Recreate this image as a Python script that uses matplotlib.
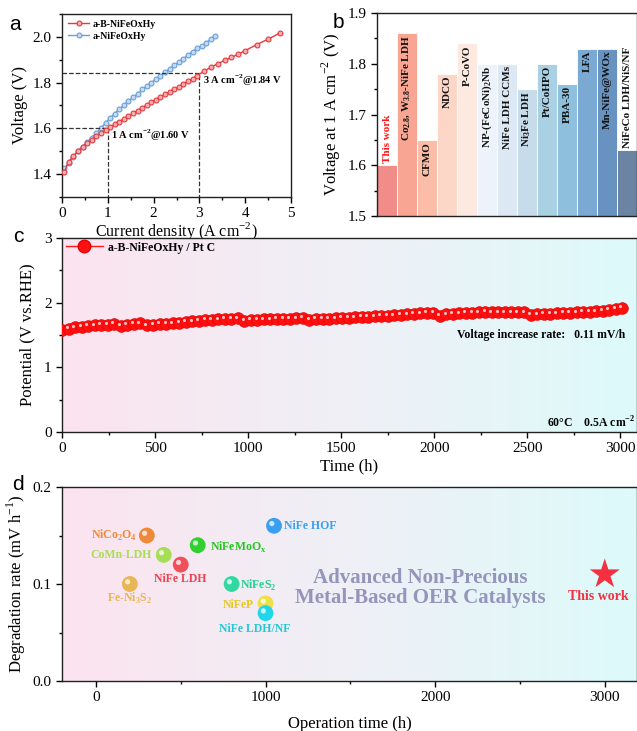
import numpy as np
import matplotlib
matplotlib.use('Agg')
import matplotlib.pyplot as plt
from matplotlib.colors import LinearSegmentedColormap
from matplotlib.transforms import ScaledTranslation
from matplotlib.lines import Line2D

plt.rcParams['font.family'] = 'Liberation Serif'
plt.rcParams['mathtext.fontset'] = 'custom'
plt.rcParams['mathtext.rm'] = 'Liberation Serif'
plt.rcParams['mathtext.bf'] = 'Liberation Serif:bold'
plt.rcParams['axes.linewidth'] = 1.0
plt.rcParams['xtick.labelsize'] = 11
plt.rcParams['ytick.labelsize'] = 11

# ---- panel a: polarization curves
red_j = [0.05, 0.15, 0.25, 0.35, 0.45, 0.55, 0.65, 0.75, 0.85, 0.95,
         1.05, 1.15, 1.25, 1.35, 1.45, 1.55, 1.65, 1.75, 1.85, 1.95,
         2.05, 2.15, 2.25, 2.35, 2.45, 2.55, 2.65, 2.75, 2.85, 2.95,
         3.1, 3.25, 3.4, 3.55, 3.7, 3.85, 4.0, 4.25, 4.5, 4.75]
red_v = [1.41, 1.455, 1.48, 1.50, 1.52, 1.535, 1.55, 1.565, 1.578, 1.592,
         1.606, 1.618, 1.63, 1.642, 1.654, 1.666, 1.678, 1.69, 1.702, 1.714,
         1.726, 1.738, 1.749, 1.76, 1.771, 1.782, 1.794, 1.806, 1.818, 1.83,
         1.85, 1.867, 1.883, 1.897, 1.91, 1.925, 1.94, 1.966, 1.99, 2.016]
blue_j = [0.05, 0.15, 0.25, 0.35, 0.45, 0.55, 0.65, 0.75, 0.85, 0.95,
          1.05, 1.15, 1.25, 1.35, 1.45, 1.55, 1.65, 1.75, 1.85, 1.95,
          2.05, 2.15, 2.25, 2.35, 2.45, 2.55, 2.65, 2.75, 2.85, 2.95,
          3.05, 3.15, 3.25, 3.35]
blue_v = [1.425, 1.45, 1.475, 1.50, 1.52, 1.54, 1.56, 1.58, 1.60, 1.625,
          1.645, 1.665, 1.685, 1.70, 1.72, 1.735, 1.75, 1.77, 1.785, 1.80,
          1.815, 1.83, 1.845, 1.86, 1.875, 1.89, 1.905, 1.92, 1.935, 1.95,
          1.96, 1.975, 1.99, 2.003]

# ---- panel b: voltage at 1 A cm-2
catalysts = ['This work', r'Co$_{\mathbf{2.8}}$, W$_{\mathbf{3.8}}$-NiFe LDH', 'CFMO', 'NDCO',
             'P-CoVO', r'NP-(FeCoNi)$_{\mathbf{2}}$Nb', 'NiFe LDH CCMs',
             r'Ni$_{\mathbf{3}}$Fe LDH', 'Pt/CoHPO', 'PBA-30', 'LFA',
             'Mn-NiFe@WOx', 'NiFeCo LDH/NiS/NF']
cat_volt = [1.60, 1.86, 1.65, 1.78, 1.84, 1.80, 1.80, 1.75, 1.80, 1.76, 1.83, 1.83, 1.63]
bar_colors = ['#f08d88', '#f9a593', '#fbbda8', '#fcd6c7', '#fde9df', '#edf3fa',
              '#dce8f3', '#c7dcea', '#aad0e4', '#8ebfdc', '#7aa9d3', '#6893c1', '#6c84a4']

# ---- panel c: stability test
time_h = [0, 35, 70, 105, 140, 175, 210, 245, 280, 315, 350, 385, 420, 455, 490,
          525, 560, 595, 630, 665, 700, 735, 770, 805, 840, 875, 910, 945, 980,
          1015, 1050, 1085, 1120, 1155, 1190, 1225, 1260, 1295, 1330, 1365, 1400,
          1435, 1470, 1505, 1540, 1575, 1610, 1645, 1680, 1715, 1750, 1785, 1820,
          1855, 1890, 1925, 1960, 1995, 2030, 2065, 2100, 2135, 2170, 2205, 2240,
          2275, 2310, 2345, 2380, 2415, 2450, 2485, 2520, 2555, 2590, 2625, 2660,
          2695, 2730, 2765, 2800, 2835, 2870, 2905, 2940, 2975, 3010]
potential = [1.57, 1.60, 1.62, 1.63, 1.64, 1.65, 1.655, 1.66, 1.67, 1.645, 1.66,
             1.67, 1.68, 1.65, 1.66, 1.67, 1.675, 1.68, 1.69, 1.70, 1.71, 1.72,
             1.73, 1.735, 1.74, 1.75, 1.755, 1.76, 1.72, 1.73, 1.735, 1.74, 1.74,
             1.745, 1.75, 1.755, 1.76, 1.765, 1.73, 1.745, 1.75, 1.755, 1.76,
             1.765, 1.77, 1.775, 1.78, 1.785, 1.79, 1.795, 1.80, 1.805, 1.81,
             1.82, 1.83, 1.835, 1.84, 1.845, 1.80, 1.82, 1.83, 1.835, 1.84, 1.845,
             1.85, 1.855, 1.85, 1.85, 1.85, 1.85, 1.85, 1.85, 1.81, 1.82, 1.825,
             1.83, 1.835, 1.84, 1.845, 1.85, 1.855, 1.86, 1.865, 1.875, 1.885,
             1.90, 1.915]

# ---- panel d: degradation comparison
ref_names = [r'NiCo$_{\mathbf{2}}$O$_{\mathbf{4}}$', 'CoMn-LDH', 'NiFe LDH',
             r'Fe-Ni$_{\mathbf{3}}$S$_{\mathbf{2}}$', r'NiFeMoO$_{\mathbf{x}}$',
             'NiFe HOF', r'NiFeS$_{\mathbf{2}}$', 'NiFeP', 'NiFe LDH/NF']
ref_time = [300, 400, 500, 200, 600, 1050, 800, 1000, 1000]
ref_rate = [0.15, 0.13, 0.12, 0.10, 0.14, 0.16, 0.10, 0.08, 0.07]
ref_colors = ['#ee8a3c', '#a6de55', '#f0505a', '#e8b655', '#2fd02f',
              '#3a9ff0', '#33d8a0', '#f0e048', '#22d6ea']
label_colors = ['#ee8a3c', '#a6de55', '#f04050', '#e8b655', '#22c822',
                '#3a9ff0', '#22d090', '#e8c820', '#22c8d8']
this_time = 3000
this_rate = 0.11

fig = plt.figure(figsize=(6.37, 7.31), dpi=100)
W, H = 637, 731


def add_axes_px(left, top, right, bottom):
    return fig.add_axes([left / W, 1 - bottom / H, (right - left) / W, (bottom - top) / H])


def gradient_bg(ax):
    cmap = LinearSegmentedColormap.from_list('bg', ['#fce3ef', '#eff0f6', '#ddfafa'])
    grad = np.linspace(0, 1, 256).reshape(1, -1)
    ax.imshow(grad, extent=[0, 1, 0, 1], transform=ax.transAxes, aspect='auto',
              cmap=cmap, zorder=0)


# ---------------- a
ax1 = add_axes_px(62, 14, 291, 197)
ax1.plot(red_j, red_v, '-o', color='#e8383d', lw=1, ms=3.5, mfc='#f7b0b0',
         mec='#e8383d', mew=0.8, label='a-B-NiFeOxHy', zorder=3)
ax1.plot(blue_j, blue_v, '-o', color='#6a9fd6', lw=1, ms=3.5, mfc='#c5dbf2',
         mec='#6a9fd6', mew=0.8, label='a-NiFeOxHy', zorder=2)
ax1.plot([0, 1, 1], [1.60, 1.60, 1.3], '--', color='#333333', lw=0.9)
ax1.plot([0, 3, 3], [1.84, 1.84, 1.3], '--', color='#333333', lw=0.9)
ax1.text(1.08, 1.567, r'1 A cm$^{\mathbf{-2}}$@1.60 V', fontsize=7.5, fontweight='bold',
         va='center')
ax1.text(3.07, 1.808, r'3 A cm$^{\mathbf{-2}}$@1.84 V', fontsize=7.5, fontweight='bold',
         va='center')
ax1.set_xlim(0, 5)
ax1.set_ylim(1.3, 2.1)
ax1.set_xticks([0, 1, 2, 3, 4, 5])
ax1.set_xticks(np.arange(0.5, 5, 1), minor=True)
ax1.set_yticks([1.4, 1.6, 1.8, 2.0])
ax1.set_yticks([1.3, 1.5, 1.7, 1.9, 2.1], minor=True)
ax1.set_xlabel(r'Current density (A cm$^{-2}$)', fontsize=11.5, labelpad=0)
ax1.set_ylabel('Voltage (V)', fontsize=12, labelpad=3)
leg = ax1.legend(loc='upper left', frameon=False, handlelength=2.2, handletextpad=0.4,
                 borderaxespad=0.2, labelspacing=0.3, prop={'weight': 'bold', 'size': 7})

# ---------------- b
ax2 = add_axes_px(377, 13, 637, 216)
xpos = np.arange(len(catalysts))
ax2.bar(xpos, np.array(cat_volt) - 1.5, bottom=1.5, width=1.0, color=bar_colors,
        edgecolor='white', linewidth=0.6, zorder=2)
for i, (name, v) in enumerate(zip(catalysts, cat_volt)):
    if i == 0:
        ax2.text(i, v + 0.004, name, rotation=90, ha='center', va='bottom',
                 fontsize=8, fontweight='bold', color='#ff1a1a', zorder=3)
    elif i == len(catalysts) - 1:
        ax2.text(i, v + 0.004, name, rotation=90, ha='center', va='bottom',
                 fontsize=8, fontweight='bold', color='#111111', zorder=3,
                 bbox=dict(facecolor='white', edgecolor='none', pad=0.5))
    else:
        ax2.text(i, v - 0.004, name, rotation=90, ha='center', va='top',
                 fontsize=8, fontweight='bold', color='#111111', zorder=3)
ax2.set_xlim(-0.5, len(catalysts) - 0.5)
ax2.set_ylim(1.5, 1.9)
ax2.set_xticks([])
ax2.set_yticks([1.5, 1.6, 1.7, 1.8, 1.9])
ax2.set_yticks([1.55, 1.65, 1.75, 1.85], minor=True)
ax2.set_ylabel(r'Voltage at 1 A cm$^{-2}$ (V)', fontsize=12, labelpad=3)

# ---------------- c
ax3 = add_axes_px(62, 238, 637, 432)
gradient_bg(ax3)
ax3.plot(time_h, potential, '-', color='#ff1a1a', lw=1, zorder=3)
ax3.plot(time_h, potential, 'o', color='#ff1010', ms=8.5, mec='#e00000', mew=0.4, zorder=4)
hl = ax3.transData + ScaledTranslation(-1.2 / 72, 1.2 / 72, fig.dpi_scale_trans)
ax3.plot(time_h, potential, 'o', color='#ffc8c8', ms=2.2, mew=0, transform=hl, zorder=5)
ax3.set_xlim(0, 3090)
ax3.set_ylim(0, 3)
ax3.set_xticks(np.arange(0, 3001, 500))
ax3.set_xticks(np.arange(250, 3001, 500), minor=True)
ax3.set_yticks([0, 1, 2, 3])
ax3.set_yticks([0.5, 1.5, 2.5], minor=True)
ax3.set_xlabel('Time (h)', fontsize=12, labelpad=2)
ax3.set_ylabel('Potential (V vs.RHE)', fontsize=12, labelpad=6)
h = Line2D([], [], color='#ff1a1a', lw=1, marker='o', ms=9, mfc='#ff1010', mec='#e00000')
ax3.legend([h], ['a-B-NiFeOxHy / Pt C'], loc='upper left', frameon=False,
           handlelength=3.2, handletextpad=0.4, borderaxespad=0.1, borderpad=0.2,
           prop={'weight': 'bold', 'size': 8.5})
ax3.text(3027, 1.5, r'Voltage increase rate:   0.11 mV/h', fontsize=8.5,
         fontweight='bold', ha='right', va='center')
ax3.text(2607, 0.14, r'60°C    0.5A cm$^{\mathbf{-2}}$', fontsize=8.5,
         fontweight='bold', ha='left', va='center')

# ---------------- d
ax4 = add_axes_px(62, 487, 637, 681)
gradient_bg(ax4)
ax4.scatter(ref_time, ref_rate, s=130, c=ref_colors, edgecolors='none', zorder=3)
hl4 = ax4.transData + ScaledTranslation(-1.6 / 72, 1.6 / 72, fig.dpi_scale_trans)
ax4.scatter(ref_time, ref_rate, s=14, c='white', alpha=0.75, edgecolors='none',
            transform=hl4, zorder=4)
ax4.scatter([this_time], [this_rate], marker='*', s=520, c='#f53040',
            edgecolors='none', zorder=3)

# label placement per point: (dx, dy, ha)
label_off = [(-60, 0.0, 'right'), (-70, 0.0, 'right'), (-157, -0.015, 'left'),
             (0, -0.015, 'center'), (70, -0.002, 'left'), (60, 0.0, 'left'),
             (50, -0.001, 'left'), (-70, -0.002, 'right'), (-65, -0.016, 'center')]
for name, tx, ry, col, (dx, dy, ha) in zip(ref_names, ref_time, ref_rate,
                                            label_colors, label_off):
    ax4.text(tx + dx, ry + dy, name, color=col, fontsize=8.5, fontweight='bold',
             ha=ha, va='center', zorder=5)
ax4.text(this_time - 40, this_rate - 0.023, 'This work', color='#f53040', fontsize=10,
         fontweight='bold', ha='center', va='center')
ax4.text(1910, 0.096, 'Advanced Non-Precious\nMetal-Based OER Catalysts',
         color='#9595bb', fontsize=15, fontweight='bold', ha='center', va='center',
         linespacing=1.05)
ax4.set_xlim(-200, 3190)
ax4.set_ylim(0, 0.2)
ax4.set_xticks([0, 1000, 2000, 3000])
ax4.set_xticks([500, 1500, 2500], minor=True)
ax4.set_yticks([0.0, 0.1, 0.2])
ax4.set_yticks([0.05, 0.15], minor=True)
ax4.set_xlabel('Operation time (h)', fontsize=12, labelpad=8)
ax4.set_ylabel(r'Degradation rate (mV h$^{-1}$)', fontsize=12, labelpad=3)

for ax in (ax1, ax2, ax3, ax4):
    ax.tick_params(which='major', direction='out', length=4, width=1)
    ax.tick_params(which='minor', direction='out', length=2.5, width=1)
    for s in ax.spines.values():
        s.set_color('#222222')

ax4.yaxis.set_major_formatter(matplotlib.ticker.FormatStrFormatter('%.1f'))
ax1.yaxis.set_major_formatter(matplotlib.ticker.FormatStrFormatter('%.1f'))

for lab, x, y in [('a', 15, 25), ('b', 338, 22), ('c', 18, 237), ('d', 18, 484)]:
    fig.text(x / W, 1 - y / H, lab, fontsize=15, family='Liberation Sans',
             ha='center', va='center')

fig.savefig('out.png', dpi=100)
